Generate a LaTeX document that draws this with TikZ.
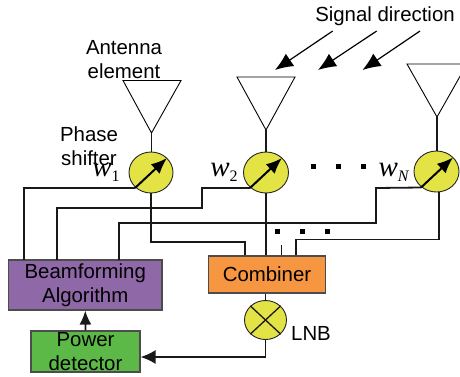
\documentclass[tikz,border=0pt]{standalone}
\usepackage{fontspec}
\setmainfont{Liberation Sans}
\newfontfamily\serifw{Liberation Serif}
\usetikzlibrary{arrows.meta,shapes.geometric}
\definecolor{shifteryellow}{HTML}{E3E346}
\definecolor{algopurple}{HTML}{8F68A8}
\definecolor{combinerorange}{HTML}{F79640}
\definecolor{detectorgreen}{HTML}{5CB947}
\def\antenna(#1)(#2:#3:#4:#5){\draw[thin line] (#2, #4) -- (#3, #4) -- (#5) -- cycle;}
\def\wlabel#1{{\serifw\fontsize{29}{29}\selectfont\textit{w}\raisebox{-5pt}{\fontsize{16}{16}\selectfont #1}}}
\tikzset{
	thin line/.style={line width=0.9pt, color=black},
	wire/.style={line width=1.8pt, color=black!90},
	label/.style={font=\fontsize{20.4}{24}\selectfont, align=center, inner sep=0pt},
	shifter/.style={draw=black!85, line width=0.9pt, fill=shifteryellow, ellipse, inner sep=0pt, minimum width=#1, minimum height=41pt},
	box/.style={draw=black!70, line width=1.1pt, fill=#1, align=center, inner sep=0pt, font=\fontsize{20.4}{24}\selectfont},
	bigtip/.style={-{Latex[length=18pt, width=15pt]}, line width=1.2pt},
	turn/.style={-{Latex[length=16pt, width=13pt]}, line width=2pt},
	dot/.style={fill=black, inner sep=0pt, minimum size=5pt}
}

\begin{document}
\begin{tikzpicture}[x=1pt, y=-1pt]
		%%%%% START %%%%%
		
		\clip (0, 0) rectangle (460, 376);
		
		% antennas
		\coordinate (apexa) at (151.5, 133);
		\coordinate (apexb) at (266, 130);
		\coordinate (apexn) at (437, 117);
		\antenna(a)(123:181:80.5:apexa)
		\antenna(b)(237:295:77:apexb)
		\antenna(n)(407:467:64:apexn)
		
		% phase shifters
		\node[shifter=44pt] (shiftera) at (151, 172.5) {};
		\node[shifter=45pt] (shifterb) at (266, 172.5) {};
		\node[shifter=45pt] (shiftern) at (436.5, 171.5) {};
		\draw[wire] (apexa) -- (shiftera.north -| apexa);
		\draw[wire] (apexb) -- (shifterb.north);
		\draw[wire] (apexn) -- (shiftern.north -| apexn);
		
		% boxes
		\node[box=algopurple, minimum width=153.5pt, minimum height=50pt] (algo) at (85.25, 285) {Beamforming\\Algorithm};
		\node[box=combinerorange, minimum width=117.5pt, minimum height=37pt] (combiner) at (267, 274.5) {Combiner};
		\node[box=detectorgreen, minimum width=109pt, minimum height=41pt] (detector) at (85.5, 351.5) {Power\\detector};
		\node[shifter=42pt, minimum height=39pt] (mixer) at (265.5, 320) {};
		\draw[wire, line width=1.3pt] (mixer.north west) -- (mixer.south east);
		\draw[wire, line width=1.3pt] (mixer.north east) -- (mixer.south west);
		
		% inputs of the combiner
		\coordinate (stuba) at (245, 242);
		\coordinate (stubc) at (281.7, 245);
		\coordinate (stubn) at (296, 239.5);
		\draw[wire] (shiftera.south) -- (151, 242) -- (stuba) -- (stuba |- combiner.north);
		\draw[wire] (shifterb.south) -- (shifterb.south |- combiner.north);
		\draw[wire, line width=1.3pt] (stubc) -- (stubc |- combiner.north);
		\draw[wire] (439, 192) -- (439, 239.5) -- (stubn) -- (stubn |- combiner.north);
		\draw[wire] (combiner.south -| mixer) -- (mixer.north);
		
		% control lines
		\coordinate (ctrla) at (135, 188);
		\coordinate (ctrlb) at (250, 188);
		\coordinate (ctrln) at (421, 187.5);
		\draw[wire] (24, 260) -- (24, 188) -- (ctrla);
		\draw[wire] (57, 260) -- (57, 208) -- (202, 208) -- (202, 188) -- (ctrlb);
		\draw[wire] (119, 260) -- (119, 223) -- (376, 223) -- (376, 188) -- (ctrln);
		
		% arrows in the shifters
		\coordinate (tipa) at (167, 158);
		\coordinate (tipb) at (282, 158);
		\coordinate (tipn) at (453, 157.5);
		\draw[turn] (ctrla) -- (tipa);
		\draw[turn] (ctrlb) -- (tipb);
		\draw[turn] (ctrln) -- (tipn);
		
		% feedback
		\draw[wire, -{Latex[length=15pt, width=14pt]}] (mixer.south) -- (265.5, 357) -- (detector.east |- 0, 357);
		\draw[wire, -{Latex[length=14pt, width=12pt]}] (detector.north) -- (algo.south);
		
		% signal direction
		\coordinate (sigastart) at (332.7, 31);
		\coordinate (sigaend) at (275, 70);
		\coordinate (sigbstart) at (376.7, 31);
		\coordinate (sigbend) at (318, 70);
		\coordinate (sigcstart) at (420, 31);
		\coordinate (sigcend) at (362.5, 70);
		\draw[bigtip] (sigastart) -- (sigaend);
		\draw[bigtip] (sigbstart) -- (sigbend);
		\draw[bigtip] (sigcstart) -- (sigcend);
		
		% dots
		\node[dot] (dota) at (313, 166) {};
		\node[dot] (dotb) at (338, 166) {};
		\node[dot] (dotc) at (363.5, 166) {};
		\node[dot] (dotd) at (277, 231) {};
		\node[dot] (dote) at (302, 231) {};
		\node[dot] (dotf) at (327, 231) {};
		
		% labels
		\node[label] (signal) at (385, 16) {Signal direction};
		\node[label] (element) at (124, 59.5) {Antenna\\element};
		\node[label] (phase) at (89, 146) {Phase\\shifter};
		\node[label] (lnb) at (311, 333) {LNB};
		\node[inner sep=0pt] (wa) at (106, 172) {\wlabel{1}};
		\node[inner sep=0pt] (wb) at (224, 172) {\wlabel{2}};
		\node[inner sep=0pt] (wn) at (394, 172) {\wlabel{\textit{N}}};
		
		%%%%% END %%%%%
	\end{tikzpicture}
\end{document}
